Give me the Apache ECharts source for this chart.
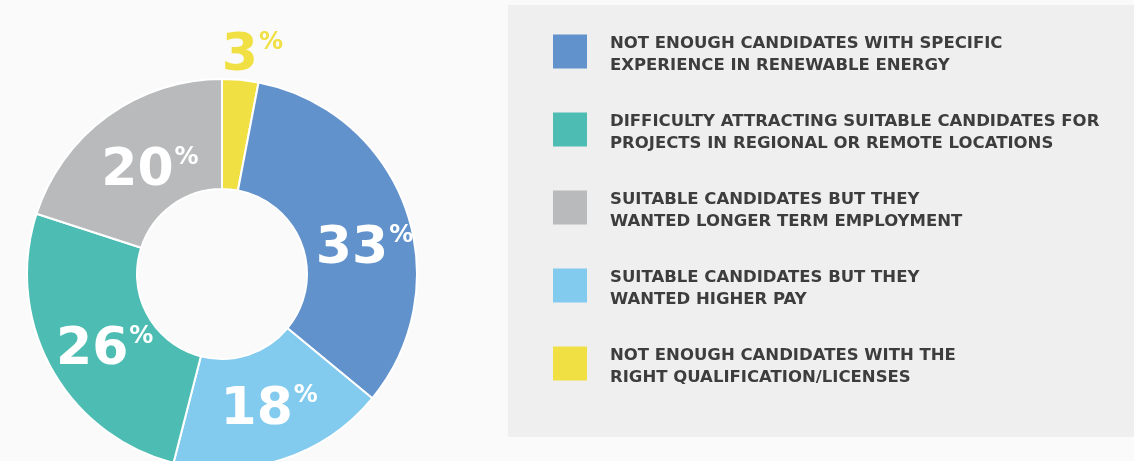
<!DOCTYPE html>
<html>
<head>
    <meta charset="utf-8">
    <title>Recruitment difficulties</title>
    <script src="https://cdn.jsdelivr.net/npm/echarts@6/dist/echarts.min.js"></script>
    <style>
        html, body { margin: 0; padding: 0; background: #fafafa; }
        #chart { width: 1134px; height: 461px; }
    </style>
</head>
<body>
    <div id="chart"></div>
    <script>
    // slices, clockwise from 12 o'clock
    var categories = [
        'NOT ENOUGH CANDIDATES WITH THE\nRIGHT QUALIFICATION/LICENSES',
        'NOT ENOUGH CANDIDATES WITH SPECIFIC\nEXPERIENCE IN RENEWABLE ENERGY',
        'SUITABLE CANDIDATES BUT THEY\nWANTED HIGHER PAY',
        'DIFFICULTY ATTRACTING SUITABLE CANDIDATES FOR\nPROJECTS IN REGIONAL OR REMOTE LOCATIONS',
        'SUITABLE CANDIDATES BUT THEY\nWANTED LONGER TERM EMPLOYMENT'
    ];
    var values = [3, 33, 18, 26, 20];
    var colors = ['#f0e044', '#6192cb', '#82cbee', '#4dbdb3', '#b9babb'];
    // legend lists them in a different order
    var legendOrder = [1, 3, 4, 2, 0];

    var chart = echarts.init(document.getElementById('chart'));

    // nudge labels a bit off the mid radius
    var labelShift = [[17, -75], [8, 24], [3, 0], [8, 8], [12, 13]];

    chart.setOption({
        backgroundColor: '#fafafa',
        graphic: [{
            type: 'rect',
            shape: { x: 508, y: 5, width: 640, height: 432 },
            style: { fill: '#efefef' },
            silent: true,
            z: -1
        }],
        legend: {
            orient: 'vertical',
            left: 548,
            top: 21,
            itemWidth: 34,
            itemHeight: 34,
            itemGap: 27,
            icon: 'rect',
            selectedMode: false,
            itemStyle: { borderWidth: 0 },
            data: legendOrder.map(function(i) { return categories[i]; }),
            // small empty first line pushes the text a little below the swatch centre
            formatter: function(name) { return '{s| }\n' + name; },
            textStyle: {
                color: '#3d3d3d',
                fontFamily: 'DejaVu Sans',
                fontWeight: 'bold',
                fontSize: 16.5,
                lineHeight: 22,
                padding: [0, 0, 0, 18],
                rich: { s: { fontSize: 1, lineHeight: 7 } }
            }
        },
        series: [{
            type: 'pie',
            center: [222, 274],
            radius: [85, 195],
            startAngle: 90,
            clockwise: true,
            animation: false,
            silent: true,
            itemStyle: { borderColor: '#ffffff', borderWidth: 2 },
            label: {
                show: true,
                position: 'inside',
                formatter: function(p) { return '{n|' + p.value + '}{p|%}'; },
                rich: {
                    n: { fontFamily: 'DejaVu Sans', fontWeight: 'bold', fontSize: 52 },
                    p: { fontFamily: 'DejaVu Sans', fontWeight: 'bold', fontSize: 24, verticalAlign: 'top', padding: [0, 0, 20, 1] }
                }
            },
            labelLayout: function(p) {
                return { dx: labelShift[p.dataIndex][0], dy: labelShift[p.dataIndex][1] };
            },
            labelLine: { show: false },
            data: categories.map(function(name, i) {
                var c = i === 0 ? colors[0] : '#ffffff';
                return {
                    name: name,
                    value: values[i],
                    itemStyle: { color: colors[i] },
                    label: { rich: { n: { color: c }, p: { color: c } } }
                };
            })
        }]
    });
    </script>
</body>
</html>
